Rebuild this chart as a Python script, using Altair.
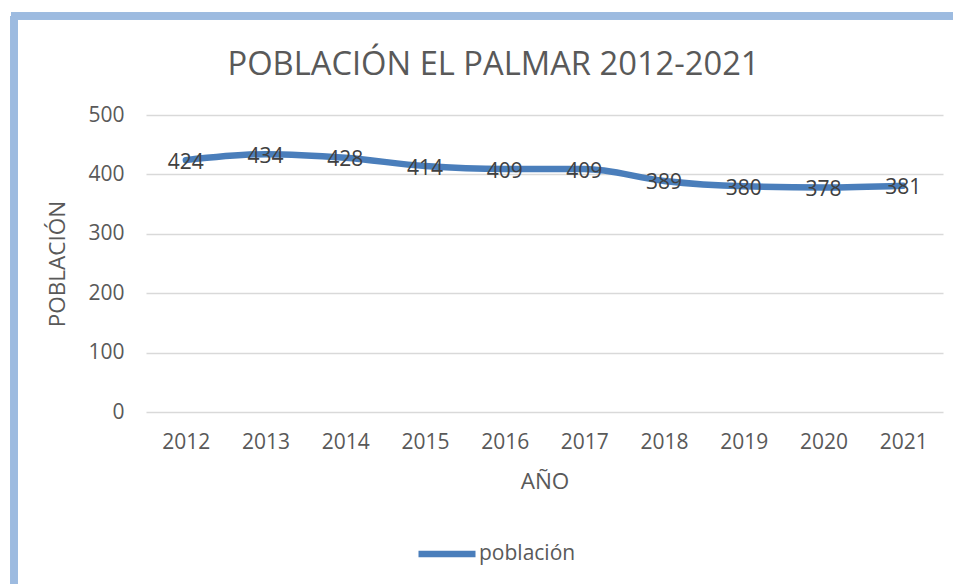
import altair as alt
import pandas as pd

years = ["2012", "2013", "2014", "2015", "2016", "2017", "2018", "2019", "2020", "2021"]
population = [424, 434, 428, 414, 409, 409, 389, 380, 378, 381]
series_name = ["población"] * len(years)

df = pd.DataFrame({"AÑO": years, "POBLACIÓN": population, "serie": series_name})

FONT = "Open Sans"
GREY = "#595959"
LINE = "#4a7ebb"
BORDER = "#9dbbe0"

x = alt.X("AÑO:O", scale=alt.Scale(type="point", padding=0.5),
          axis=alt.Axis(title="AÑO", labelAngle=0, labelFontSize=21, titleFontSize=22.5,
                        labelPadding=19, titlePadding=18, ticks=False, domain=False,
                        grid=False, labelColor=GREY, titleColor=GREY,
                        labelFont=FONT, titleFont=FONT, titleFontWeight="normal"))
y = alt.Y("POBLACIÓN:Q", scale=alt.Scale(domain=[0, 500]),
          axis=alt.Axis(title="POBLACIÓN", values=[0, 100, 200, 300, 400, 500],
                        labelFontSize=21, titleFontSize=22.5, labelPadding=22,
                        titlePadding=18, ticks=False, domain=False,
                        gridColor="#d9d9d9", gridWidth=1.5,
                        labelColor=GREY, titleColor=GREY, labelFont=FONT,
                        titleFont=FONT, titleFontWeight="normal"))

line = alt.Chart(df).mark_line(interpolate="monotone", strokeWidth=6.5, strokeCap="round").encode(
    x=x, y=y,
    color=alt.Color("serie:N", scale=alt.Scale(range=[LINE]),
                    legend=alt.Legend(title=None, orient="none", legendX=269, legendY=407,
                                      symbolType="stroke", symbolSize=3249,
                                      symbolStrokeWidth=6.5, labelFontSize=21,
                                      labelFont=FONT, labelColor=GREY, labelOffset=0,
                                      padding=0)),
)

labels = alt.Chart(df).mark_text(fontSize=21, font=FONT, color="#404040",
                                 baseline="middle", dy=2.5).encode(
    x=x, y=y, text="POBLACIÓN:Q"
)

border_left = alt.Chart(df).mark_rule(color=BORDER, strokeWidth=7).encode(
    x=alt.value(-132), y=alt.value(-99), y2=alt.value(480)
)
border_top = alt.Chart(df).mark_rule(color=BORDER, strokeWidth=7).encode(
    x=alt.value(-135), x2=alt.value(830), y=alt.value(-99)
)

chart = alt.layer(border_left, border_top, line, labels).properties(
    width=797, height=297,
    padding={"left": 138, "top": 107, "right": 10, "bottom": 172},
    autosize=alt.AutoSizeParams(type="none"),
    title=alt.Title("POBLACIÓN EL PALMAR 2012-2021", fontSize=32.7, font=FONT,
                    fontWeight="normal", color=GREY, anchor="middle",
                    baseline="bottom", offset=-102, dx=-51),
).configure_view(stroke=None)

chart.save("out.html", embed_options={"renderer": "svg", "actions": False})
